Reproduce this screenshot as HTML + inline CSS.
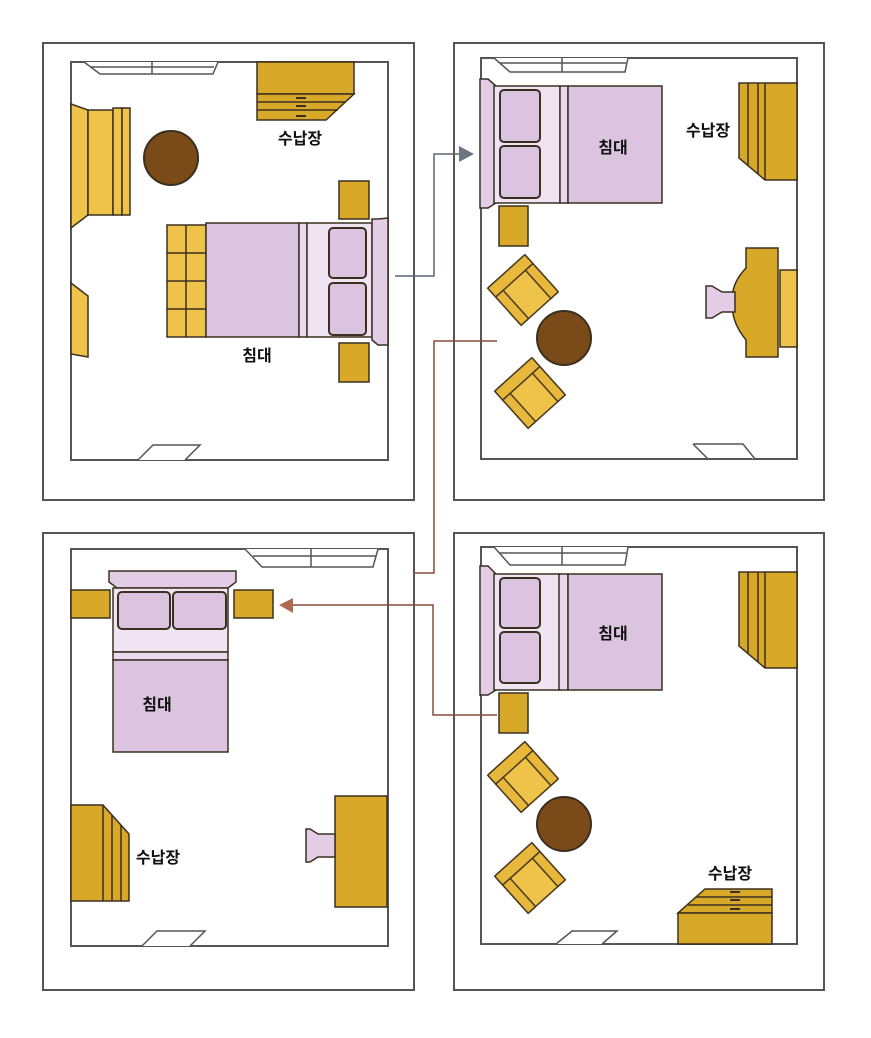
<!DOCTYPE html>
<html><head><meta charset="utf-8"><style>
html,body{margin:0;padding:0;background:#fff;}
svg{display:block}
text{font-family:"Liberation Sans","Noto Sans CJK KR",sans-serif;font-size:16px;fill:#111;text-anchor:middle;font-weight:bold}
</style></head><body>
<svg width="871" height="1038" viewBox="0 0 871 1038" xmlns="http://www.w3.org/2000/svg">
<defs>
<g id="chair">
 <rect x="-25" y="-25" width="50" height="50" fill="#EFC24A" stroke="#4a3a20" stroke-width="1.5" rx="2"/>
 <rect x="-25" y="-25" width="50" height="12" fill="#E8B83C" stroke="#4a3a20" stroke-width="1.5"/>
 <rect x="-25" y="-13" width="10" height="38" fill="#E8B83C" stroke="#4a3a20" stroke-width="1.5"/>
 <rect x="15" y="-13" width="10" height="38" fill="#E8B83C" stroke="#4a3a20" stroke-width="1.5"/>
</g>
</defs>
<g fill="none" stroke="#555" stroke-width="2">
<rect x="43" y="43" width="371" height="457"/><rect x="71" y="62" width="317" height="398"/>
<rect x="454" y="43" width="370" height="457"/><rect x="481" y="58" width="316" height="401"/>
<rect x="43" y="533" width="371" height="457"/><rect x="71" y="549" width="317" height="397"/>
<rect x="454" y="533" width="370" height="457"/><rect x="481" y="547" width="316" height="397"/>
</g>
<g fill="#fff" stroke="#555" stroke-width="1.5">
<path d="M84 62 L100 74 L213 74 L218 62"/><path d="M90 67 L214 67 M152 62 L152 74"/>
<path d="M494 58 L510 72 L625 72 L628 58"/><path d="M500 63 L626 63 M562 58 L562 72"/>
<path d="M245 549 L262 567 L373 567 L378 549"/><path d="M253 556 L376 556 M311 549 L311 567"/>
<path d="M494 547 L510 565 L625 565 L628 547"/><path d="M500 553 L626 553 M562 547 L562 565"/>
<path d="M138 460 L153 445 L200 445 L185 460"/>
<path d="M693 444 L743 444 L755 459 M693 444 L708 459"/>
<path d="M142 946 L157 931 L205 931 L190 946"/>
<path d="M556 944 L572 931 L617 931 L602 944"/>
</g>
<path d="M395 276 H434 V154 H462" fill="none" stroke="#5a6670" stroke-width="1.5"/>
<polygon points="474,154 459,146 459,162" fill="#6a7680"/>
<path d="M497 341 H434 V573 H414" fill="none" stroke="#8a4a3a" stroke-width="1.5"/>
<path d="M497 715 H433 V605 H292" fill="none" stroke="#8a4a3a" stroke-width="1.5"/>
<polygon points="279,605 293,598 293,613" fill="#B06A50"/>

<g stroke="#3a3020" stroke-width="1.5">
<rect x="257" y="62" width="97" height="32" fill="#D8A828"/>
<path d="M257 94 H354 L326 120 H257 Z" fill="#D8A828"/>
<path d="M257 102 H346 M257 110 H338" fill="none"/>
<path d="M296 98 H306 M296 106 H306 M296 116 H306" stroke-width="2"/>
<path d="M71 104 L88 110 V215 L71 228 Z" fill="#EFC24A"/>
<rect x="88" y="110" width="25" height="105" fill="#EFC24A"/>
<rect x="113" y="108" width="9" height="107" fill="#EFC24A"/><rect x="122" y="108" width="8" height="107" fill="#EFC24A"/>
<circle cx="171" cy="158" r="27" fill="#7A4A18" stroke-width="2"/>
<path d="M71 283 L88 296 V357 L71 354 Z" fill="#EFC24A"/>
<rect x="339" y="181" width="30" height="38" fill="#D8A828"/>
<rect x="339" y="343" width="30" height="39" fill="#D8A828"/>
<rect x="167" y="225" width="39" height="112" fill="#EFC24A"/>
<path d="M186 225 V337 M167 253 H206 M167 281 H206 M167 309 H206" fill="none"/>
<rect x="206" y="223" width="93" height="114" fill="#DCC4E0"/>
<rect x="299" y="223" width="8" height="114" fill="#EAD8EC"/>
<rect x="307" y="223" width="65" height="114" fill="#F1E4F2"/>
<rect x="329" y="228" width="37" height="50" rx="4" fill="#DCC4E0" stroke-width="2"/>
<rect x="329" y="283" width="37" height="52" rx="4" fill="#DCC4E0" stroke-width="2"/>
<path d="M372 219 L378 219 L388 218 V345 L378 345 L372 340 Z" fill="#E2CCE6"/>

<path d="M480 79 H488 L496 86 V203 L488 208 H480 Z" fill="#E2CCE6"/>
<rect x="494" y="86" width="66" height="117" fill="#F1E4F2"/>
<rect x="500" y="90" width="40" height="52" rx="4" fill="#DCC4E0" stroke-width="2"/>
<rect x="500" y="146" width="40" height="52" rx="4" fill="#DCC4E0" stroke-width="2"/>
<rect x="560" y="86" width="8" height="117" fill="#EAD8EC"/>
<rect x="568" y="86" width="94" height="117" fill="#DCC4E0"/>
<rect x="499" y="206" width="29" height="40" fill="#D8A828"/>
<path d="M739 83 H797 V180 H765 L739 158 Z" fill="#D8A828"/>
<path d="M748 83 V166 M758 83 V174 M765 83 V180" fill="none"/>
<rect x="780" y="270" width="17" height="77" fill="#EFC24A"/>
<path d="M746 248 H778 V357 H746 V340 Q730 320 733 302 Q730 285 746 268 Z" fill="#D8A828"/>
<path d="M735 292 H722 L712 286 H706 V318 H712 L722 312 H735 Z" fill="#E2CCE6"/>
<use href="#chair" transform="translate(523,290) rotate(-42)"/>
<use href="#chair" transform="translate(530,393) rotate(-42)"/>
<circle cx="564" cy="338" r="27" fill="#7A4A18" stroke-width="2"/>

<rect x="71" y="590" width="39" height="28" fill="#D8A828"/>
<rect x="234" y="590" width="39" height="28" fill="#D8A828"/>
<path d="M109 571 H236 V582 L228 588 H117 L109 582 Z" fill="#E2CCE6"/>
<rect x="113" y="588" width="115" height="64" fill="#F1E4F2"/>
<rect x="118" y="592" width="52" height="37" rx="4" fill="#DCC4E0" stroke-width="2"/>
<rect x="173" y="592" width="53" height="37" rx="4" fill="#DCC4E0" stroke-width="2"/>
<rect x="113" y="652" width="115" height="8" fill="#EAD8EC"/>
<rect x="113" y="660" width="115" height="92" fill="#DCC4E0"/>
<path d="M71 805 H103 L129 834 V901 H71 Z" fill="#D8A828"/>
<path d="M103 805 V901 M112 815 V901 M121 825 V901" fill="none"/>
<rect x="335" y="796" width="52" height="111" fill="#D8A828"/>
<path d="M335 834 H318 L310 829 H306 V862 H310 L318 857 H335 Z" fill="#E2CCE6"/>

<path d="M480 566 H488 L496 574 V690 L488 695 H480 Z" fill="#E2CCE6"/>
<rect x="494" y="574" width="66" height="116" fill="#F1E4F2"/>
<rect x="500" y="578" width="40" height="50" rx="4" fill="#DCC4E0" stroke-width="2"/>
<rect x="500" y="632" width="40" height="51" rx="4" fill="#DCC4E0" stroke-width="2"/>
<rect x="559" y="574" width="9" height="116" fill="#EAD8EC"/>
<rect x="568" y="574" width="94" height="116" fill="#DCC4E0"/>
<rect x="499" y="693" width="29" height="40" fill="#D8A828"/>
<path d="M739 572 H797 V668 H765 L739 646 Z" fill="#D8A828"/>
<path d="M748 572 V654 M758 572 V662 M765 572 V668" fill="none"/>
<use href="#chair" transform="translate(523,777) rotate(-42)"/>
<use href="#chair" transform="translate(530,878) rotate(-42)"/>
<circle cx="564" cy="824" r="27" fill="#7A4A18" stroke-width="2"/>
<path d="M705 889 H772 V913 H678 Z" fill="#D8A828"/>
<rect x="678" y="913" width="94" height="31" fill="#D8A828"/>
<path d="M696 897 H772 M688 905 H772" fill="none"/>
<path d="M730 892 H740 M730 900 H740 M730 909 H740" stroke-width="2"/>
</g>
<text x="300" y="144">수납장</text>
<text x="257" y="361">침대</text>
<text x="613" y="153">침대</text>
<text x="708" y="136">수납장</text>
<text x="157" y="710">침대</text>
<text x="158" y="863">수납장</text>
<text x="613" y="639">침대</text>
<text x="730" y="879">수납장</text>
</svg>
</body></html>
